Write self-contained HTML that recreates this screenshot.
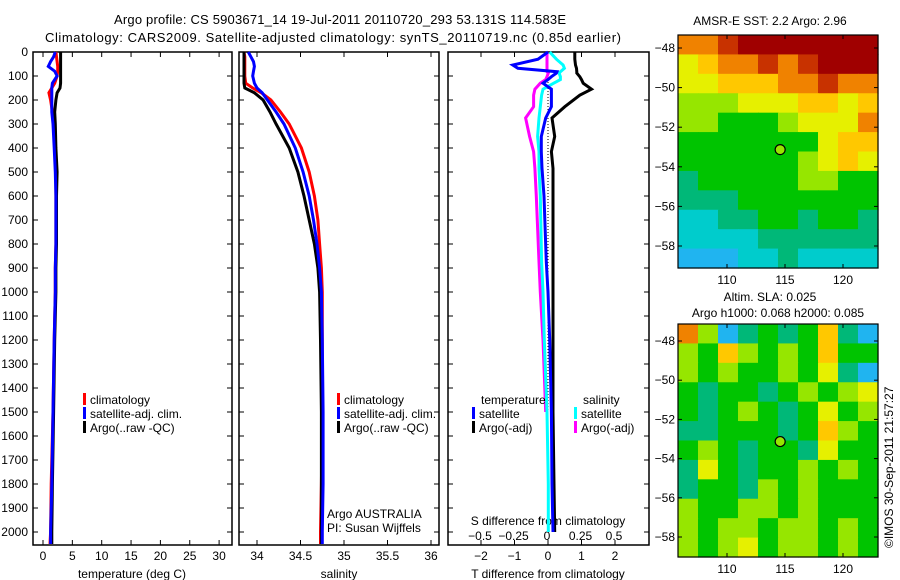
<!DOCTYPE html>
<html><head><meta charset="utf-8"><style>
html,body{margin:0;padding:0;background:#fff;}
svg{display:block;font-family:"Liberation Sans",sans-serif;}
</style></head><body>
<svg id="fig" width="900" height="580" viewBox="0 0 900 580" xmlns="http://www.w3.org/2000/svg">
<text x="340" y="24" font-size="13" text-anchor="middle" textLength="452">Argo profile: CS 5903671_14 19-Jul-2011 20110720_293 53.131S 114.583E</text>
<text x="333" y="42" font-size="13" text-anchor="middle" textLength="576">Climatology: CARS2009. Satellite-adjusted climatology: synTS_20110719.nc (0.85d earlier)</text>
<text x="770" y="25" font-size="12" text-anchor="middle">AMSR-E SST: 2.2 Argo: 2.96</text>
<text x="770" y="301" font-size="12" text-anchor="middle">Altim. SLA: 0.025</text>
<text x="778" y="317" font-size="12" text-anchor="middle">Argo h1000: 0.068 h2000: 0.085</text>
<text x="0" y="0" font-size="12" transform="translate(893,548) rotate(-90)">©IMOS 30-Sep-2011 21:57:27</text>
<g id="layer"></g>
</svg>
<script>
// ---------- data ----------
const depths = [0,20,40,60,80,100,130,150,170,200,250,300,400,500,600,700,800,900,1000,1200,1500,1800,2000,2050];
const argoT = [3.0,3.0,3.0,3.0,3.0,3.0,3.0,2.9,2.4,2.2,2.0,2.1,2.2,2.4,2.3,2.3,2.3,2.2,2.2,2.0,1.8,1.6,1.5,1.5];
const climT = [2.2,2.3,2.4,2.5,2.5,2.4,2.0,1.5,1.0,1.3,1.6,1.8,2.0,2.2,2.2,2.2,2.2,2.1,2.1,1.9,1.7,1.4,1.3,1.2];
const satT  = [2.1,1.8,1.3,0.9,2.0,2.4,1.6,1.5,1.5,1.5,1.5,1.7,1.9,2.1,2.2,2.2,2.2,2.1,2.1,1.9,1.7,1.5,1.3,1.3];
const argoS = [33.85,33.85,33.85,33.85,33.85,33.85,33.85,33.86,33.97,34.07,34.15,34.22,34.37,34.47,34.54,34.60,34.66,34.70,34.72,34.73,34.74,34.74,34.74,34.74];
const climS = [33.85,33.86,33.86,33.86,33.86,33.86,33.87,33.95,34.05,34.16,34.27,34.37,34.51,34.60,34.66,34.70,34.72,34.74,34.75,34.75,34.75,34.74,34.73,34.73];
const satS  = [33.9,33.93,33.96,33.97,33.96,33.95,33.97,34.0,34.06,34.12,34.22,34.31,34.44,34.53,34.60,34.65,34.69,34.72,34.74,34.75,34.76,34.76,34.75,34.75];
const dDepths = [0,30,54,68,82,88,103,115,130,155,180,228,275,352,415,485,600,875,1000,1200,1500,1800,2000];
const dArgoT = [0.8,0.8,0.82,0.85,0.86,0.86,0.95,1.0,1.05,1.3,0.95,0.5,0.12,0.2,0.1,0.15,0.15,0.15,0.15,0.15,0.15,0.18,0.2];
const dSatT  = [0,-0.3,-1.05,-0.9,0.27,0.25,0.1,0.0,-0.15,0.1,0.1,0.1,-0.07,-0.2,-0.2,-0.18,-0.12,-0.05,0.0,0.05,0.1,0.12,0.15];
const dSatS  = [0.02,0.07,0.12,0.13,0.1,0.09,0.1,0.1,0.05,-0.03,-0.04,-0.05,-0.06,-0.07,-0.06,-0.06,-0.05,-0.04,-0.03,-0.02,0.0,0.01,0.01];
const dArgoS = [0.0,0.0,0.0,0.0,0.0,0.01,0.0,-0.01,-0.05,-0.09,-0.1,-0.1,-0.16,-0.13,-0.1,-0.09,-0.08,-0.06,-0.05,-0.03,-0.01,null,null];
const depthTicks = [0,100,200,300,400,500,600,700,800,900,1000,1100,1200,1300,1400,1500,1600,1700,1800,1900,2000];
const tTicks = [0,5,10,15,20,25,30];
const sTicks = [34,34.5,35,35.5,36];
const dTTicks = [-2,-1,0,1,2];
const dSTicks = [-0.5,-0.25,0,0.25,0.5];
const latTicks = [-48,-50,-52,-54,-56,-58];
const lonTicks = [110,115,120];
const sstGrid = [
[8,8,9,10,10,10,10,10,10,10],
[6,7,8,8,9,8,9,10,10,10],
[6,6,7,7,7,8,8,9,8,8],
[5,5,5,6,6,6,7,7,6,7],
[5,5,4,4,4,5,6,6,6,8],
[4,4,4,4,4,4,4,6,7,7],
[4,4,4,4,4,4,5,6,7,6],
[3,4,4,4,4,4,5,5,4,4],
[3,3,3,4,4,4,4,4,4,4],
[2,2,3,3,4,4,3,4,4,3],
[2,2,2,2,3,3,3,3,3,3],
[1,1,1,2,2,3,2,2,2,2]];
const slaGrid = [
[8,5,1,3,4,3,4,7,3,1],
[5,4,7,5,4,5,4,7,4,4],
[5,4,5,4,4,5,4,6,3,1],
[4,3,4,4,3,4,5,4,5,6],
[4,3,4,5,4,3,4,6,4,5],
[3,3,4,4,4,3,4,7,5,4],
[4,5,4,3,4,4,3,6,4,4],
[3,6,4,3,4,4,5,4,5,4],
[3,4,4,3,5,4,5,4,4,4],
[5,4,4,5,5,4,5,4,4,4],
[5,4,5,5,4,5,5,4,5,4],
[5,4,5,6,4,5,5,4,5,4]];
const floatLon = 114.583, floatLat = -53.131;
const palette = ["#0096ff","#20b4f0","#00cccc","#00b878","#00c400","#96e600","#e6f000","#ffc800","#f08200","#c83200","#a00000"];

// ---------- helpers ----------
const NS="http://www.w3.org/2000/svg";
const layer=document.getElementById('layer');
function mk(tag,attrs,parent){const e=document.createElementNS(NS,tag);for(const k in attrs)e.setAttribute(k,attrs[k]);(parent||layer).appendChild(e);return e;}
const top0=52, bot=545;
const yD=d=>top0+d*0.24;
function xT(v){return 43+v*5.87;}
function xS(v){return 257+(v-34)*87;}
function xDT(v){return 548+v*33.5;}
function xDS(v){return 547+v*134;}

function panel(x0,x1,name){
  const r=mk('rect',{x:x0,y:top0,width:x1-x0,height:bot-top0,fill:'none',stroke:'#000','stroke-width':1.5});
  
  
  depthTicks.forEach(d=>{mk('line',{x1:x0,x2:x0+5,y1:yD(d),y2:yD(d),stroke:'#000'});mk('line',{x1:x1,x2:x1-5,y1:yD(d),y2:yD(d),stroke:'#000'});});
}
function xticks(ticks,fx,x0,x1,ylab){
  ticks.forEach(t=>{const x=fx(t);
    mk('line',{x1:x,x2:x,y1:bot,y2:bot-5,stroke:'#000'});mk('line',{x1:x,x2:x,y1:top0,y2:top0+5,stroke:'#000'});
    const tx=mk('text',{x:x,y:ylab,'font-size':12,'text-anchor':'middle'});tx.textContent=String(t).replace('-','−');
    
    
  });
}
function line(xs,ds,fx,color,name,w){
  const pts=[];xs.forEach((v,i)=>{if(v!==null)pts.push(fx(v).toFixed(1)+','+yD(ds[i]).toFixed(1));});
  const p=mk('polyline',{points:pts.join(' '),fill:'none',stroke:color,'stroke-width':w||3,'stroke-linejoin':'miter'});
  
  
}
function txt(x,y,s,name,size,anchor){const t=mk('text',{x:x,y:y,'font-size':size||12,'text-anchor':anchor||'start'});t.textContent=s;
  
  
  return t;}
function legend(x,y,color,label,name){
  const r=mk('rect',{x:x,y:y-11,width:3,height:12,fill:color});
  
  
  txt(x+7,y,label,name);
}

// ---------- panel 1: temperature ----------
panel(33,232,'temperature-axes');
depthTicks.forEach(d=>{txt(28,yD(d)+4,String(d),'y-tick-label',12,'end');});
xticks(tTicks,xT,33,232,560);
txt(132,578,'temperature (deg C)','x-axis-title-temperature',12,'middle');
line(climT,depths,xT,'#ff0000','temp-climatology-line');
line(argoT,depths,xT,'#000000','temp-argo-line');
line(satT,depths,xT,'#0000ff','temp-satellite-line');
legend(83,404,'#ff0000','climatology','legend-climatology');
legend(83,418,'#0000ff','satellite-adj. clim.','legend-satellite');
legend(83,432,'#000000','Argo(..raw -QC)','legend-argo');

// ---------- panel 2: salinity ----------
panel(239,439,'salinity-axes');
xticks(sTicks,xS,239,439,560);
txt(339,578,'salinity','x-axis-title-salinity',12,'middle');
line(climS,depths,xS,'#ff0000','sal-climatology-line');
line(argoS,depths,xS,'#000000','sal-argo-line');
line(satS,depths,xS,'#0000ff','sal-satellite-line');
legend(337,404,'#ff0000','climatology','legend-climatology-sal');
legend(337,418,'#0000ff','satellite-adj. clim.','legend-satellite-sal');
legend(337,432,'#000000','Argo(..raw -QC)','legend-argo-sal');
txt(327,518,'Argo AUSTRALIA','argo-australia-label');
txt(327,532,'PI: Susan Wijffels','pi-label');

// ---------- panel 3: differences ----------
panel(448,649,'difference-axes');
xticks(dTTicks,xDT,448,649,560);
dSTicks.forEach(t=>{txt(xDS(t),540,String(t).replace('-','−'),'s-diff-tick-label',12,'middle');});
txt(548,525,'S difference from climatology','s-diff-axis-title',12,'middle');
txt(548,578,'T difference from climatology','t-diff-axis-title',12,'middle');
const zl=mk('line',{x1:548,x2:548,y1:yD(100),y2:yD(2000),stroke:'#000','stroke-dasharray':'1,2'});


line(dArgoT,dDepths,xDT,'#000000','t-diff-argo-line');
line(dArgoS,dDepths,xDS,'#ff00ff','s-diff-argo-line');
line(dSatS,dDepths,xDS,'#00ffff','s-diff-satellite-line');
line(dSatT,dDepths,xDT,'#0000ff','t-diff-satellite-line');
txt(481,404,'temperature','legend-temperature-heading');
legend(472,418,'#0000ff','satellite','legend-t-satellite');
legend(472,432,'#000000','Argo(-adj)','legend-t-argo');
txt(583,404,'salinity','legend-salinity-heading');
legend(574,418,'#00ffff','satellite','legend-s-satellite');
legend(574,432,'#ff00ff','Argo(-adj)','legend-s-argo');

// ---------- maps ----------
function map(grid,y0,y1,latScale,lat48y,name){
  const x0=678,x1=878,rows=grid.length,cols=grid[0].length;
  const cw=(x1-x0)/cols,ch=(y1-y0)/rows;
  grid.forEach((row,i)=>row.forEach((v,j)=>{
    const c=mk('rect',{x:(x0+j*cw).toFixed(2),y:(y0+i*ch).toFixed(2),width:(cw+0.6).toFixed(2),height:(ch+0.6).toFixed(2),fill:palette[v]});
    
    
  }));
  const fr=mk('rect',{x:x0,y:y0,width:x1-x0,height:y1-y0,fill:'none',stroke:'#000','stroke-width':1.2});
  
  
  const xL=lon=>727+(lon-110)*11.6;
  const yL=lat=>lat48y+(-48-lat)*latScale;
  latTicks.forEach(l=>{const y=yL(l);mk('line',{x1:x1,x2:x1-4,y1:y,y2:y,stroke:'#000'});mk('line',{x1:x0,x2:x0+4,y1:y,y2:y,stroke:'#000'});
    txt(675,y+4,String(l).replace('-','−'),'lat-tick-label',12,'end');});
  lonTicks.forEach(l=>{const x=xL(l);mk('line',{x1:x,x2:x,y1:y0,y2:y0+4,stroke:'#000'});mk('line',{x1:x,x2:x,y1:y1,y2:y1-4,stroke:'#000'});
    txt(x,y1+16,String(l),'lon-tick-label',12,'middle');});
  const m=mk('circle',{cx:xL(floatLon),cy:yL(floatLat),r:5,fill:'#96e600',stroke:'#000','stroke-width':1.2});
  
  
}
map(sstGrid,35,268,19.8,48,'sst-map');
map(slaGrid,324,557,19.6,341,'sla-map');
</script>
</body></html>
